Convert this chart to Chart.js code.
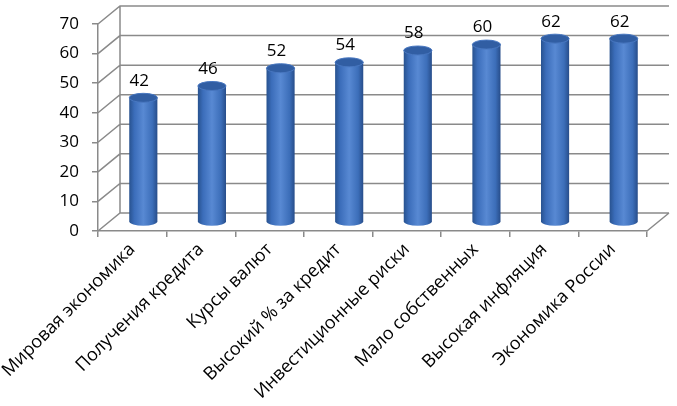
<!DOCTYPE html>
<html lang="ru">
<head>
  <meta charset="UTF-8">
  <title>Cylinder chart</title>
  <script src="https://cdn.jsdelivr.net/npm/chart.js"></script>
  <style>
    body { margin: 0; background: #fff; }
    #wrap { width: 677px; height: 406px; }
  </style>
</head>
<body>
<div id="wrap"><canvas id="chart" width="677" height="406"></canvas></div>

<script>
  const categories = [
    'Мировая экономика',
    'Получения кредита',
    'Курсы валют',
    'Высокий % за кредит',
    'Инвестиционные риски',
    'Мало собственных',
    'Высокая инфляция',
    'Экономика России'
  ];
  const values = [42, 46, 52, 54, 58, 60, 62, 62];
  const yMin = 0, yMax = 70, yStep = 10;

  // depth of the fake 3d box
  const DX = 22, DY = 18;
  const gridColor = '#8a8a8a';
  const fontFamily = '"Open Sans", "Noto Sans", sans-serif';

  const box3d = {
    id: 'box3d',
    afterDatasetsDraw(chart) {
      const ctx = chart.ctx;
      const xs = chart.scales.x, ys = chart.scales.y;
      const left = xs.left, right = xs.right;

      ctx.save();
      ctx.strokeStyle = gridColor;
      ctx.lineWidth = 1.5;
      ctx.beginPath();
      ys.ticks.forEach(t => {
        const yf = ys.getPixelForValue(t.value);
        ctx.moveTo(left, yf);
        ctx.lineTo(left + DX, yf - DY);
        ctx.lineTo(right + DX, yf - DY);
      });
      const y0 = ys.getPixelForValue(yMin), yTop = ys.getPixelForValue(yMax);
      ctx.moveTo(left + DX, y0 - DY);
      ctx.lineTo(left + DX, yTop - DY);
      ctx.moveTo(right, y0);
      ctx.lineTo(right + DX, y0 - DY);
      ctx.stroke();

      // cylinders
      const meta = chart.getDatasetMeta(0);
      meta.data.forEach(el => {
        const cx = el.x + DX / 2;
        const top = el.y - DY / 2;
        const base = el.base - DY / 2;
        const rx = el.width / 2, ry = 4.5;

        const g = ctx.createLinearGradient(cx - rx, 0, cx + rx, 0);
        g.addColorStop(0, '#28528f');
        g.addColorStop(0.18, '#3b6dba');
        g.addColorStop(0.5, '#5889d3');
        g.addColorStop(0.82, '#3c6eb9');
        g.addColorStop(1, '#274d8a');

        ctx.beginPath();
        ctx.moveTo(cx - rx, top);
        ctx.lineTo(cx - rx, base);
        ctx.ellipse(cx, base, rx, ry, 0, Math.PI, 0, true);
        ctx.lineTo(cx + rx, top);
        ctx.closePath();
        ctx.fillStyle = g;
        ctx.fill();

        ctx.beginPath();
        ctx.ellipse(cx, top, rx, ry, 0, 0, Math.PI * 2);
        ctx.fillStyle = '#315ea3';
        ctx.fill();
        ctx.strokeStyle = '#4877c0';
        ctx.lineWidth = 1;
        ctx.stroke();
      });

      // value labels
      ctx.fillStyle = '#000';
      ctx.font = '17px ' + fontFamily;
      ctx.textAlign = 'center';
      ctx.textBaseline = 'middle';
      meta.data.forEach((el, i) => {
        ctx.fillText(String(values[i]), el.x + 7, el.y - DY / 2 - 17);
      });
      ctx.restore();
    }
  };

  new Chart(document.getElementById('chart'), {
    type: 'bar',
    data: {
      labels: categories,
      datasets: [{
        data: values,
        backgroundColor: 'rgba(0,0,0,0)',
        borderWidth: 0,
        categoryPercentage: 1,
        barPercentage: 0.41
      }]
    },
    options: {
      responsive: false,
      animation: false,
      layout: { padding: { top: 24, right: 30, left: 0, bottom: 0 } },
      plugins: { legend: { display: false }, tooltip: { enabled: false } },
      scales: {
        x: {
          grid: { drawOnChartArea: false, drawTicks: true, tickLength: 6, color: gridColor, lineWidth: 1.5 },
          border: { display: true, color: gridColor, width: 1.5 },
          ticks: {
            color: '#000',
            font: { family: fontFamily, size: 18 },
            minRotation: 45,
            maxRotation: 45,
            padding: 2,
            autoSkip: false
          },
          afterFit(scale) {
            scale.height = 175;
            scale.paddingLeft = 0;
            scale.paddingRight = 0;
          }
        },
        y: {
          min: yMin,
          max: yMax,
          grid: { drawOnChartArea: false, drawTicks: true, tickLength: 6, color: gridColor, lineWidth: 1.5 },
          border: { display: true, color: gridColor, width: 1.5 },
          ticks: {
            stepSize: yStep,
            color: '#000',
            font: { family: fontFamily, size: 17 },
            padding: 13
          },
          afterFit(scale) {
            scale.width = 98;
            scale.paddingTop = 0;
            scale.paddingBottom = 0;
          }
        }
      }
    },
    plugins: [box3d]
  });
</script>
</body>
</html>
